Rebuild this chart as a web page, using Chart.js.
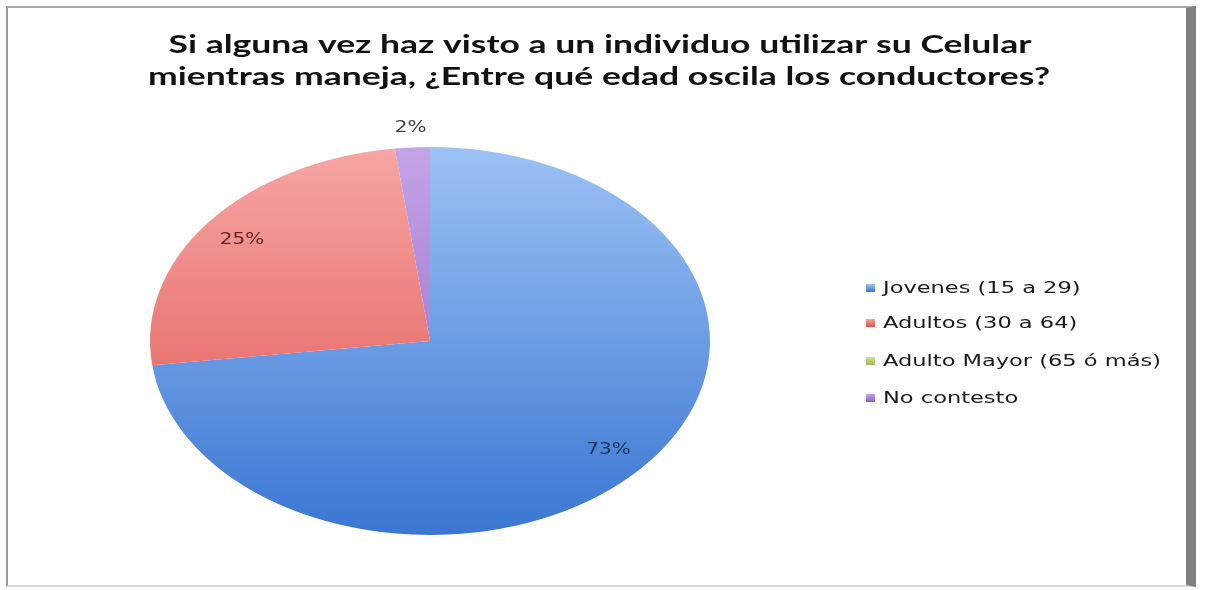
<!DOCTYPE html>
<html>
<head>
<meta charset="utf-8">
<script src="https://cdn.jsdelivr.net/npm/chart.js@4.4.1/dist/chart.umd.min.js"></script>
<style>
  html, body { margin: 0; padding: 0; background: #fff; }
  #wrap { position: relative; width: 1208px; height: 590px; overflow: hidden; }
  #frame {
    position: absolute; left: 6px; top: 6px; width: 1190px; height: 581px;
    border-left: 2px solid #9a9a9a; border-top: 2px solid #a8a8a8;
    border-right: 10px solid #808080; border-bottom: 2px solid #d8d8d8;
    box-sizing: border-box; pointer-events: none;
  }
  canvas { position: absolute; left: 0; top: 0; }
</style>
</head>
<body>
<div id="wrap">
  <canvas id="grafico" width="1208" height="590"></canvas>
  <div id="frame"></div>
</div>
<script>
// datos
const categorias = ['Jovenes (15 a 29)', 'Adultos (30 a 64)', 'Adulto Mayor (65 ó más)', 'No contesto'];
const porcentajes = [73, 25, 0, 2];
const tituloLineas = ['Si alguna vez haz visto a un individuo utilizar su Celular',
                      'mientras maneja, ¿Entre qué edad oscila los conductores?'];

const coloresArriba = ['#9cc2f5', '#f6a6a4', '#cfe39a', '#c4a3e6'];
const coloresAbajo  = ['#3a76d2', '#e0504c', '#9bbb59', '#8e63c4'];
const coloresEtiqueta = ['#17365d', '#632523', '#4f6228', '#404040'];

const estirar = 1.443; // la imagen original esta estirada a lo ancho

function degradado(ctx) {
  const chart = ctx.chart;
  const area = chart.chartArea;
  if (!area) return coloresAbajo[ctx.dataIndex];
  const g = chart.ctx.createLinearGradient(0, area.top, 0, area.bottom);
  g.addColorStop(0, coloresArriba[ctx.dataIndex]);
  g.addColorStop(1, coloresAbajo[ctx.dataIndex]);
  return g;
}

// texto con escala horizontal
function textoAncho(c, t, x, y, sx, align) {
  const w = c.measureText(t).width * sx;
  let x0 = x;
  if (align === 'center') x0 = x - w / 2;
  c.save();
  c.translate(x0, y);
  c.scale(sx, 1);
  c.textAlign = 'left';
  c.fillText(t, 0, 0);
  c.restore();
}

const elipse = {
  id: 'elipse',
  beforeDatasetsDraw(chart) {
    const a = chart.getDatasetMeta(0).data[0];
    const c = chart.ctx;
    c.save();
    c.translate(a.x, 0);
    c.scale(estirar, 1);
    c.translate(-a.x, 0);
  },
  afterDatasetsDraw(chart) {
    chart.ctx.restore();
    // porcentajes
    const c = chart.ctx;
    const meta = chart.getDatasetMeta(0);
    c.save();
    c.font = '16px "DejaVu Sans"';
    c.textBaseline = 'middle';
    meta.data.forEach((arc, i) => {
      const v = porcentajes[i];
      if (!v) return;
      const mid = (arc.startAngle + arc.endAngle) / 2;
      const f = v < 5 ? 1.1 : 0.85;
      const x = arc.x + Math.cos(mid) * arc.outerRadius * f * estirar;
      const y = arc.y + Math.sin(mid) * arc.outerRadius * f;
      c.fillStyle = coloresEtiqueta[i];
      textoAncho(c, v + '%', x, y, 1.25, 'center');
    });
    c.restore();
  },
  afterDraw(chart) {
    const c = chart.ctx;
    // titulo
    c.save();
    c.font = 'bold 24px Lato';
    c.textBaseline = 'middle';
    c.fillStyle = '#111';
    const sxT = 902 / c.measureText(tituloLineas[1]).width;
    textoAncho(c, tituloLineas[0], 600, 45, sxT, 'center');
    textoAncho(c, tituloLineas[1], 599, 77, sxT, 'center');
    c.restore();

    // leyenda
    c.save();
    c.font = '16px "DejaVu Sans"';
    c.textBaseline = 'middle';
    const sxL = 278 / c.measureText(categorias[2]).width;
    const ys = [288, 323, 361, 398];
    categorias.forEach((t, i) => {
      const g = c.createLinearGradient(0, ys[i] - 4, 0, ys[i] + 4);
      g.addColorStop(0, coloresArriba[i]);
      g.addColorStop(1, coloresAbajo[i]);
      c.fillStyle = g;
      c.fillRect(866, ys[i] - 4, 9, 8);
      c.fillStyle = '#1a1a1a';
      textoAncho(c, t, 883, ys[i] + 1, sxL, 'left');
    });
    c.restore();
  }
};

new Chart(document.getElementById('grafico'), {
  type: 'pie',
  data: {
    labels: categorias,
    datasets: [{
      data: porcentajes,
      backgroundColor: degradado,
      borderWidth: 0,
      clip: false
    }]
  },
  options: {
    responsive: false,
    animation: false,
    layout: { padding: { left: 236, right: 584, top: 147, bottom: 55 } },
    plugins: {
      legend: { display: false },
      tooltip: { enabled: false },
      title: { display: false }
    }
  },
  plugins: [elipse]
});
</script>
</body>
</html>
